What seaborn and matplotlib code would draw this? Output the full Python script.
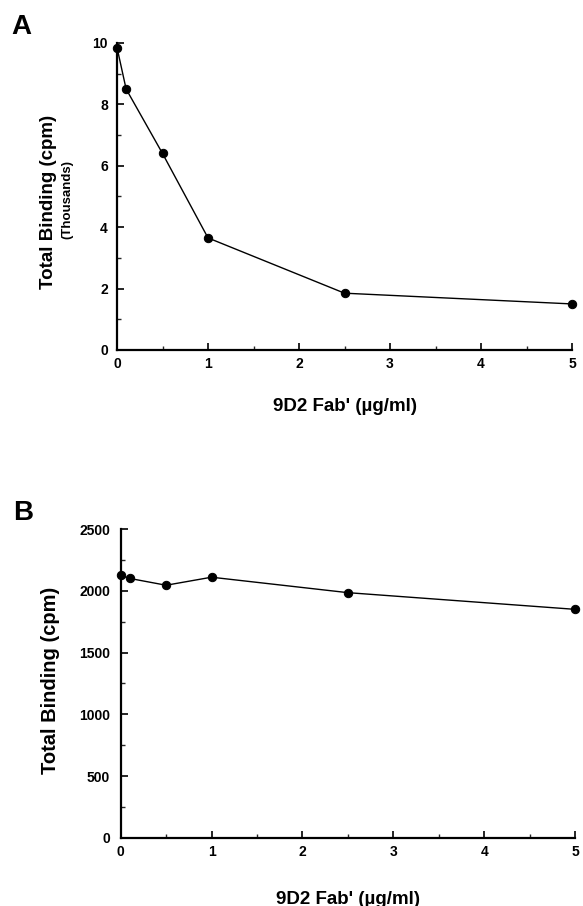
import numpy as np
import matplotlib
matplotlib.use("Agg")
import matplotlib.pyplot as plt
import seaborn as sns
from matplotlib.ticker import MultipleLocator

# ── Data ──────────────────────────────────────────────────────────────────────
fab_conc = [0, 0.1, 0.5, 1, 2.5, 5]                 # 9D2 Fab' (ug/ml)
binding_a = [9.85, 8.5, 6.4, 3.65, 1.85, 1.5]        # thousands cpm
binding_b = [2125, 2100, 2045, 2110, 1985, 1850]     # cpm

x_ticks = [0, 1, 2, 3, 4, 5]
y_ticks_a = [0, 2, 4, 6, 8, 10]
y_ticks_b = [0, 500, 1000, 1500, 2000, 2500]

sns.set_style("ticks")
plt.rcParams['font.family'] = ['Liberation Sans', 'DejaVu Sans']
plt.rcParams['font.weight'] = 'bold'
plt.rcParams['text.color'] = 'black'
plt.rcParams['axes.labelcolor'] = 'black'

fig = plt.figure(figsize=(5.83, 9.06), dpi=100)
ax_a = fig.add_axes([0.2007, 0.6137, 0.7805, 0.3389])
ax_b = fig.add_axes([0.2070, 0.0751, 0.7793, 0.3410])


def style_axis(ax, yticks, ymax, yminor, ypad, label_y):
    ax.set_xlim(0, 5)
    ax.set_ylim(0, ymax)
    ax.set_xticks(x_ticks)
    ax.set_yticks(yticks)
    ax.xaxis.set_minor_locator(MultipleLocator(0.5))
    ax.yaxis.set_minor_locator(MultipleLocator(yminor))
    ax.tick_params(which='major', direction='in', length=5, width=1.2,
                   labelsize=10, colors='black')
    ax.tick_params(axis='x', which='major', pad=5)
    ax.tick_params(axis='y', which='major', pad=ypad)
    ax.tick_params(which='minor', direction='in', length=3, width=1.0)
    for lab in ax.get_xticklabels() + ax.get_yticklabels():
        lab.set_fontweight('bold')
    sns.despine(ax=ax)
    for side in ['left', 'bottom']:
        ax.spines[side].set_linewidth(1.6)
        ax.spines[side].set_color('black')
    ax.set_xlabel("9D2 Fab' (µg/ml)", fontsize=13.5, fontweight='bold')
    ax.xaxis.set_label_coords(0.5, label_y)
    ax.set_ylabel("")


# ── Panel A ───────────────────────────────────────────────────────────────────
sns.lineplot(x=fab_conc, y=binding_a, ax=ax_a, color='black', linewidth=1.0,
             marker='o', markersize=6, markeredgecolor='black', clip_on=False)
style_axis(ax_a, y_ticks_a, 10, 1, 6.5, -0.157)
fig.text(0.083, 0.777, "Total Binding (cpm)", rotation=90, fontsize=13.5,
         fontweight='bold', ha='center', va='center')
fig.text(0.115, 0.780, "(Thousands)", rotation=90, fontsize=9.5,
         fontweight='bold', ha='center', va='center')
fig.text(0.037, 0.970, "A", fontsize=20, fontweight='bold', ha='center', va='center')

# ── Panel B ───────────────────────────────────────────────────────────────────
sns.lineplot(x=fab_conc, y=binding_b, ax=ax_b, color='black', linewidth=1.0,
             marker='o', markersize=6, markeredgecolor='black', clip_on=False)
style_axis(ax_b, y_ticks_b, 2500, 250, 7.5, -0.171)
fig.text(0.086, 0.2494, "Total Binding (cpm)", rotation=90, fontsize=14.5,
         fontweight='bold', ha='center', va='center')
fig.text(0.040, 0.434, "B", fontsize=20, fontweight='bold', ha='center', va='center')

fig.savefig("out.png", dpi=100, facecolor='white')
